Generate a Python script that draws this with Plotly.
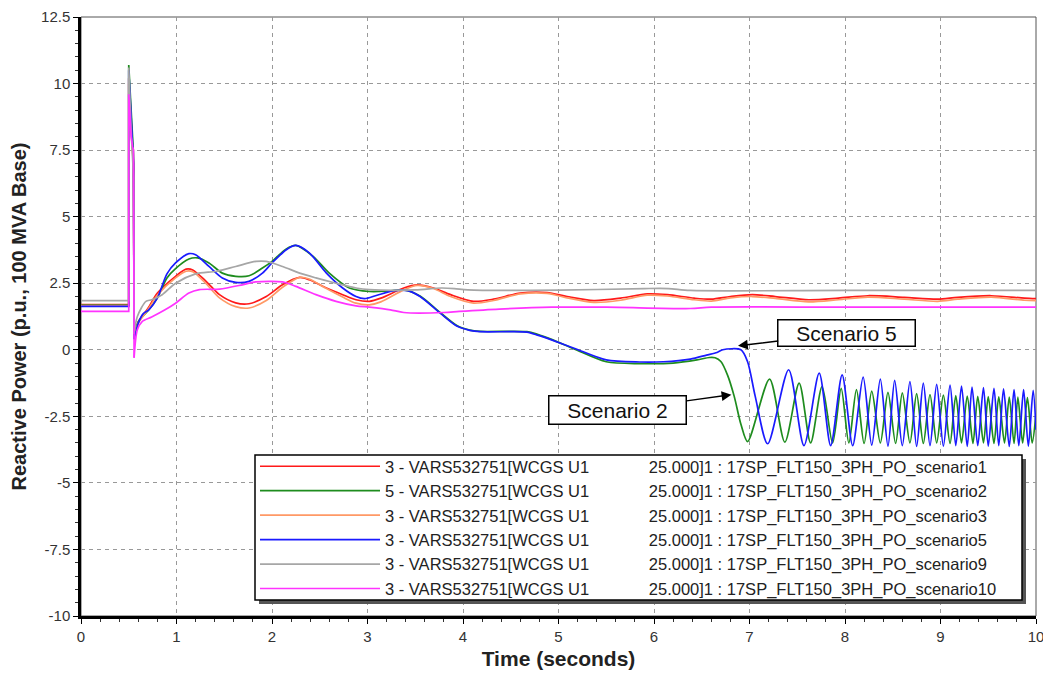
import plotly.graph_objects as go

# ---------------------------------------------------------------------------
# Reactive power of unit WCGS U1 for several fault scenarios (p.u., 100 MVA)
# ---------------------------------------------------------------------------

# Pre-fault and fault-on window, shared time base (s)
fault_t = [0.0, 0.5, 0.5, 0.51, 0.525, 0.54, 0.55, 0.556]

s1_fault_q = [1.70, 1.70, 10.2, 9.4, 8.15, 7.5, 7.0, 0.50]
s2_fault_q = [1.68, 1.68, 10.7, 10.0, 8.8, 7.8, 7.3, 0.50]
s3_fault_q = [1.66, 1.66, 10.0, 9.2, 8.0, 7.4, 6.9, 0.45]
s5_fault_q = [1.63, 1.63, 10.5, 9.8, 8.6, 7.6, 7.0, 0.40]
s9_fault_q = [1.85, 1.85, 10.6, 9.5, 8.2, 7.2, 6.5, 0.60]
s10_fault_q = [1.44, 1.44, 9.6, 8.9, 8.0, 7.64, 7.5, -0.30]

# Post-fault response
s1_t = [0.556, 0.6, 0.7, 0.8, 0.99, 1.1, 1.17, 1.31, 1.45, 1.62, 1.76, 1.94, 2.11,
        2.29, 2.39, 2.57, 2.74, 2.88, 3.02, 3.14, 3.38, 3.52, 3.69, 3.87, 4.11,
        4.32, 4.6, 4.88, 5.09, 5.37, 5.65, 5.93, 6.14, 6.42, 6.6, 6.8, 7.03,
        7.27, 7.62, 7.93, 8.24, 8.62, 8.97, 9.18, 9.53, 9.88, 10.0]
s1_q = [0.5, 1.05, 1.55, 2.13, 2.76, 3.03, 3.0, 2.57, 2.07, 1.76, 1.73, 2.0, 2.44,
        2.72, 2.63, 2.32, 2.07, 1.88, 1.82, 1.94, 2.32, 2.44, 2.32, 2.07, 1.82,
        1.9, 2.13, 2.15, 2.0, 1.85, 1.94, 2.1, 2.07, 1.94, 1.9, 2.0, 2.07,
        2.0, 1.88, 1.94, 2.03, 1.97, 1.9, 1.97, 2.03, 1.94, 1.92]

s3_t = s1_t
s3_q = [0.45, 1.0, 1.5, 2.05, 2.7, 2.95, 2.93, 2.48, 1.95, 1.62, 1.57, 1.85, 2.35,
        2.72, 2.66, 2.3, 1.98, 1.75, 1.69, 1.8, 2.25, 2.42, 2.3, 2.0, 1.75,
        1.85, 2.1, 2.12, 1.95, 1.78, 1.86, 2.05, 2.02, 1.88, 1.83, 1.95, 2.0,
        1.93, 1.8, 1.88, 1.98, 1.9, 1.82, 1.9, 1.98, 1.86, 1.85]

s2_t = [0.556, 0.6, 0.71, 0.8, 0.9, 0.99, 1.13, 1.22, 1.34, 1.48, 1.62, 1.76, 1.9,
        2.0, 2.15, 2.25, 2.43, 2.6, 2.81, 3.02, 3.2, 3.38, 3.55, 3.76, 3.94,
        4.07, 4.18, 4.67, 4.78, 4.92, 5.17, 5.5, 5.85, 6.2, 6.45, 6.58, 6.64,
        6.70, 6.77, 6.84, 6.91, 6.98, 7.21, 7.37, 7.52, 7.64, 7.76, 7.87, 7.96,
        8.04, 8.12, 8.20, 8.28, 8.37, 8.45, 8.53, 8.60, 8.68, 8.75, 8.82, 8.89,
        8.96, 9.03, 9.10, 9.16, 9.22, 9.28, 9.34, 9.39, 9.45, 9.50, 9.56, 9.61,
        9.67, 9.72, 9.77, 9.81, 9.86, 9.91, 9.96, 10.0]
s2_q = [0.5, 1.05, 1.5, 1.95, 2.7, 3.05, 3.41, 3.45, 3.26, 2.88, 2.76, 2.78, 3.07,
        3.32, 3.79, 3.92, 3.51, 2.88, 2.32, 2.19, 2.2, 2.25, 2.02, 1.4, 0.9,
        0.74, 0.69, 0.68, 0.58, 0.4, 0.02, -0.45, -0.52, -0.5, -0.38, -0.29, -0.3,
        -0.44, -0.95, -1.75, -2.8, -3.45, -1.10, -3.47, -1.25, -3.5, -1.38, -3.5, -1.45,
        -3.5, -1.5, -3.52, -1.55, -3.5, -1.6, -3.52, -1.62, -3.5, -1.65, -3.52, -1.68,
        -3.5, -1.7, -3.52, -1.72, -3.5, -1.74, -3.52, -1.75, -3.5, -1.76, -3.52, -1.77,
        -3.5, -1.78, -3.52, -1.78, -3.5, -1.8, -3.5, -2.4]

s5_t = [0.556, 0.57, 0.6, 0.65, 0.71, 0.8, 0.9, 0.99, 1.13, 1.2, 1.34, 1.48, 1.62,
        1.76, 1.9, 2.0, 2.15, 2.25, 2.39, 2.57, 2.74, 2.88, 2.97, 3.1, 3.28,
        3.42, 3.55, 3.76, 3.94, 4.07, 4.18, 4.5, 4.67, 4.78, 4.92, 5.17, 5.5,
        5.85, 6.1, 6.38, 6.55, 6.66, 6.72, 6.91, 6.98, 7.06, 7.19, 7.41, 7.57,
        7.73, 7.85, 7.97, 8.08, 8.19, 8.28, 8.37, 8.45, 8.52, 8.60, 8.68, 8.75,
        8.82, 8.89, 8.96, 9.03, 9.10, 9.16, 9.22, 9.28, 9.33, 9.39, 9.45, 9.50,
        9.56, 9.61, 9.66, 9.72, 9.77, 9.82, 9.87, 9.92, 9.97, 10.0]
s5_q = [0.4, 0.6, 1.0, 1.35, 1.5, 1.95, 2.85, 3.26, 3.61, 3.57, 3.13, 2.7, 2.53,
        2.57, 2.88, 3.26, 3.76, 3.92, 3.64, 2.88, 2.32, 2.0, 1.92, 2.05, 2.22,
        2.22, 2.0, 1.38, 0.88, 0.73, 0.68, 0.68, 0.66, 0.55, 0.38, 0.05, -0.38,
        -0.46, -0.45, -0.35, -0.2, -0.1, 0.0, 0.0, -0.45, -1.75, -3.53, -0.75, -3.6,
        -0.88, -3.6, -0.94, -3.6, -1.03, -3.58, -1.1, -3.62, -1.15, -3.6, -1.2, -3.63,
        -1.25, -3.6, -1.3, -3.62, -1.33, -3.6, -1.36, -3.63, -1.4, -3.6, -1.42, -3.62,
        -1.45, -3.6, -1.47, -3.63, -1.5, -3.6, -1.5, -3.62, -1.52, -3.0]

s9_t = [0.556, 0.59, 0.68, 0.74, 0.85, 0.99, 1.2, 1.42, 1.62, 1.83, 1.94, 2.11,
        2.29, 2.46, 2.67, 2.88, 3.02, 3.5, 3.77, 3.91, 4.05, 5.0, 5.9, 6.15,
        6.38, 8.0, 10.0]
s9_q = [0.6, 1.25, 1.82, 1.88, 2.07, 2.5, 2.85, 2.95, 3.13, 3.32, 3.32, 3.13,
        2.88, 2.7, 2.5, 2.32, 2.26, 2.25, 2.32, 2.3, 2.25, 2.24, 2.3, 2.3,
        2.23, 2.23, 2.23]

s10_t = [0.556, 0.59, 0.64, 0.74, 0.88, 0.99, 1.13, 1.24, 1.45, 1.69, 1.83, 2.11,
         2.25, 2.46, 2.67, 2.88, 3.02, 3.24, 3.38, 3.8, 3.96, 4.38, 4.93, 5.5,
         6.38, 6.6, 8.0, 10.0]
s10_q = [-0.3, 0.75, 1.06, 1.23, 1.5, 1.75, 2.13, 2.26, 2.28, 2.44, 2.55, 2.55,
         2.38, 2.07, 1.82, 1.65, 1.6, 1.5, 1.4, 1.4, 1.44, 1.53, 1.6, 1.6,
         1.55, 1.6, 1.6, 1.6]

GAP = "\u00a0" * 13
legend_labels = [
    "3 - VARS532751[WCGS U1" + GAP + "25.000]1 : 17SP_FLT150_3PH_PO_scenario1",
    "5 - VARS532751[WCGS U1" + GAP + "25.000]1 : 17SP_FLT150_3PH_PO_scenario2",
    "3 - VARS532751[WCGS U1" + GAP + "25.000]1 : 17SP_FLT150_3PH_PO_scenario3",
    "3 - VARS532751[WCGS U1" + GAP + "25.000]1 : 17SP_FLT150_3PH_PO_scenario5",
    "3 - VARS532751[WCGS U1" + GAP + "25.000]1 : 17SP_FLT150_3PH_PO_scenario9",
    "3 - VARS532751[WCGS U1" + GAP + "25.000]1 : 17SP_FLT150_3PH_PO_scenario10",
]
line_colors = ["#ff1a1a", "#1e8c1e", "#ff9966", "#1a1aff", "#a6a6a6", "#ff33ff"]

y_tick_vals = [-10, -7.5, -5, -2.5, 0, 2.5, 5, 7.5, 10, 12.5]
y_tick_text = ["-10", "-7.5", "-5", "-2.5", "0", "2.5", "5", "7.5", "10", "12.5"]
x_tick_vals = [0, 1, 2, 3, 4, 5, 6, 7, 8, 9, 10]

FONT = "Liberation Sans, Arial, Helvetica, sans-serif"

series = [
    (s1_fault_q, s1_t, s1_q),
    (s2_fault_q, s2_t, s2_q),
    (s3_fault_q, s3_t, s3_q),
    (s5_fault_q, s5_t, s5_q),
    (s9_fault_q, s9_t, s9_q),
    (s10_fault_q, s10_t, s10_q),
]

fig = go.Figure()
for (fq, pt, pq), label, color in zip(series, legend_labels, line_colors):
    fig.add_trace(go.Scatter(
        x=fault_t, y=fq, mode="lines", showlegend=False, hoverinfo="skip",
        line=dict(color=color, width=1.7, shape="linear"),
    ))
    fig.add_trace(go.Scatter(
        x=pt, y=pq, mode="lines", name=label,
        line=dict(color=color, width=1.7, shape="spline", smoothing=0.8),
    ))

# plot area in pixels (used to place the legend frame and its shadow)
W, H = 1043, 677
ML, MR, MT, MB = 81, 7, 17, 61
PW, PH = W - ML - MR, H - MT - MB


def px_x(px):
    return (px - ML) / PW


def px_y(py):
    return (H - MB - py) / PH


box_left, box_top, box_right, box_bottom = 255, 455, 1022, 600
SHADOW = 4

fig.update_layout(
    width=W, height=H,
    margin=dict(l=ML, r=MR, t=MT, b=MB, autoexpand=False),
    paper_bgcolor="white", plot_bgcolor="white",
    font=dict(family=FONT, color="#222"),
    showlegend=True,
    legend=dict(
        x=px_x(box_left), y=px_y(box_top - 6), xanchor="left", yanchor="top",
        bgcolor="rgba(0,0,0,0)", borderwidth=0,
        font=dict(family=FONT, size=16.5, color="#222"),
        itemwidth=120, tracegroupgap=0,
    ),
    xaxis=dict(
        range=[0, 10], tickvals=x_tick_vals, showgrid=True, gridcolor="#999",
        griddash="4px,4px", gridwidth=1, zeroline=False,
        showline=True, linecolor="black", linewidth=2.5,
        ticks="outside", ticklen=5, tickcolor="black",
        minor=dict(dtick=0.2, ticks="outside", ticklen=3, tickcolor="#333", showgrid=False),
        tickfont=dict(size=15, color="#333"), ticklabeloverflow="allow",
        title=dict(text="<b>Time (seconds)</b>", font=dict(size=21, color="#222"), standoff=8),
    ),
    yaxis=dict(
        range=[-10, 12.5], tickvals=y_tick_vals, ticktext=y_tick_text,
        showgrid=True, gridcolor="#999", griddash="4px,4px", gridwidth=1,
        zeroline=False, showline=True, linecolor="black", linewidth=2.5,
        ticks="outside", ticklen=5, tickcolor="black",
        minor=dict(dtick=0.5, ticks="outside", ticklen=3, tickcolor="#333", showgrid=False),
        tickfont=dict(size=15, color="#333"), ticklabeloverflow="allow",
        title=dict(text="<b>Reactive Power (p.u., 100 MVA Base)</b>",
                   font=dict(size=20, color="#222"), standoff=10),
    ),
    shapes=[
        dict(type="rect", xref="paper", yref="paper", x0=0, x1=1, y0=0, y1=1,
             line=dict(color="#555", width=1), layer="below"),
        # legend drop shadow
        dict(type="rect", xref="paper", yref="paper",
             x0=px_x(box_left + SHADOW), x1=px_x(box_right + SHADOW),
             y0=px_y(box_bottom + SHADOW), y1=px_y(box_top + SHADOW),
             fillcolor="#555", line=dict(width=0), layer="above"),
        # legend frame
        dict(type="rect", xref="paper", yref="paper",
             x0=px_x(box_left), x1=px_x(box_right),
             y0=px_y(box_bottom), y1=px_y(box_top),
             fillcolor="white", line=dict(color="black", width=1.5), layer="above"),
    ],
    annotations=[
        dict(x=6.88, y=0.15, ax=8.02, ay=0.63, xref="x", yref="y", axref="x", ayref="y",
             text="Scenario 5", showarrow=True, arrowhead=2, arrowsize=1.3,
             arrowwidth=1.5, arrowcolor="black", standoff=0,
             font=dict(family=FONT, size=21, color="#111"),
             bgcolor="white", bordercolor="black", borderwidth=1.5,
             width=134, height=23, borderpad=1),
        dict(x=6.81, y=-1.69, ax=5.62, ay=-2.27, xref="x", yref="y", axref="x", ayref="y",
             text="Scenario 2", showarrow=True, arrowhead=2, arrowsize=1.3,
             arrowwidth=1.5, arrowcolor="black", standoff=0,
             font=dict(family=FONT, size=21, color="#111"),
             bgcolor="white", bordercolor="black", borderwidth=1.5,
             width=134, height=25, borderpad=1),
    ],
)

fig.write_html("out.html")
